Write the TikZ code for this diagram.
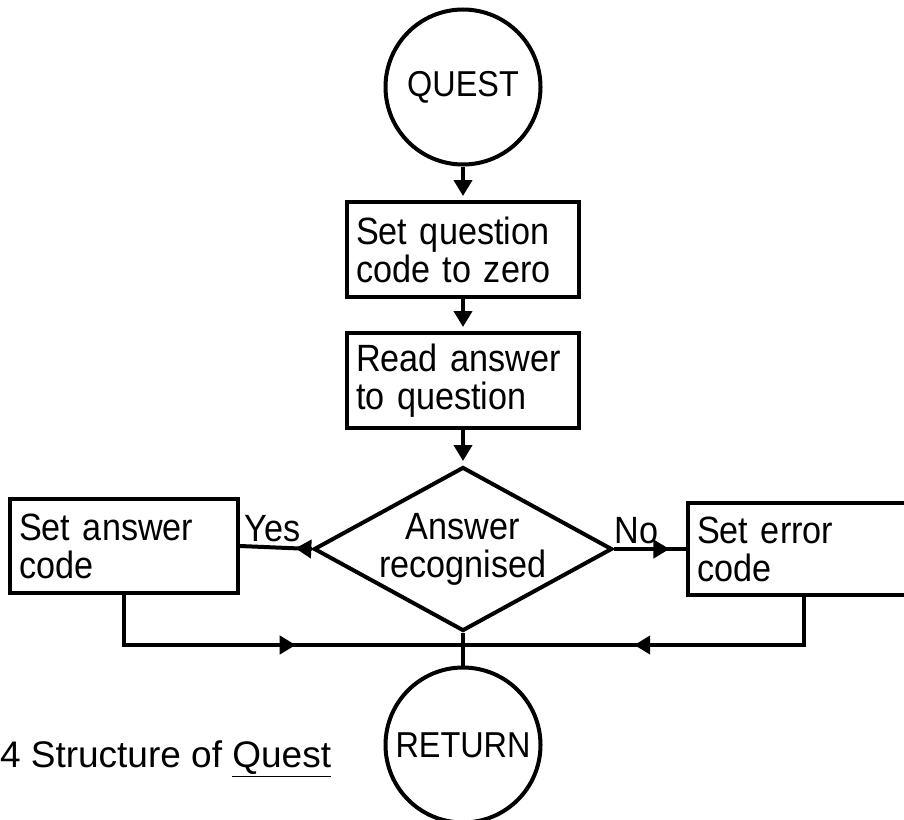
\documentclass[tikz,border=0pt]{standalone}
\usepackage{fontspec}
\setmainfont[FakeStretch=0.9]{Liberation Sans}
\newfontfamily\capfont{Liberation Sans}
\usetikzlibrary{shapes.geometric,arrows.meta,decorations.markings}

\begin{document}
\begin{tikzpicture}[x=0.5pt, y=-0.5pt, line width=2pt,
    term/.style={draw, circle, minimum size=77.5pt, inner sep=0pt, font=\fontsize{18}{18}\selectfont},
    proc/.style={draw, rectangle, minimum width=116pt, minimum height=47.5pt, inner xsep=4.5pt,
        text width=107pt, align=left, font=\fontsize{19}{19}\selectfont},
    decide/.style={draw, diamond, aspect=1.82, inner sep=0pt, minimum width=149pt, minimum height=82pt,
        align=center, font=\fontsize{19}{19}\selectfont},
    lbl/.style={inner sep=1.5pt, font=\fontsize{19}{19}\selectfont},
    arr/.style={-{Triangle[length=8pt,width=9pt]}, shorten >=2pt},
    midarrow/.style={postaction={decorate, decoration={markings,
        mark=at position #1 with {\arrow{Triangle[length=8pt,width=9pt]}}}}}]

    \useasboundingbox (0,0) rectangle (904,819);

    % bloky
    \node[term] (quest) at (463,87) {QUEST};
    \node[proc] (setq) at (463,249.5) {Set question\\code to zero};
    \node[proc] (read) at (463,380.5) {Read answer\\to question};
    \node[decide] (dia) at (463,549) {Answer\\recognised};
    \node[proc, minimum width=114pt, minimum height=47pt, text width=105pt] (ans) at (124,546) {Set answer\\code};
    \node[proc, minimum height=46pt] (err) at (804,549) {Set error\\code};
    \node[term] (ret) at (463,745) {RETURN};
    \coordinate (join) at (463,645);

    % spojenia
    \draw[arr] (quest.south) -- (setq.north);
    \draw[arr] (setq.south) -- (read.north);
    \draw[arr] (read.south) -- (dia.north);
    \draw[midarrow=0.23] (dia.west) -- node[lbl, pos=0.55, above] {Yes} (ans.east);
    \draw[midarrow=0.77] (dia.east) -- node[lbl, pos=0.31, above] {No} (err.west);
    \draw[midarrow=0.57] (ans.south) |- (join);
    \draw[midarrow=0.56] (err.south) |- (join);
    \draw (dia.south) -- (ret.north);

    % popis
    \node[anchor=base west, inner sep=0pt, font=\capfont\fontsize{18.5}{20}\selectfont] (cap) at (-2,767)
        {4 Structure of \underline{Quest}};

\end{tikzpicture}
\end{document}
